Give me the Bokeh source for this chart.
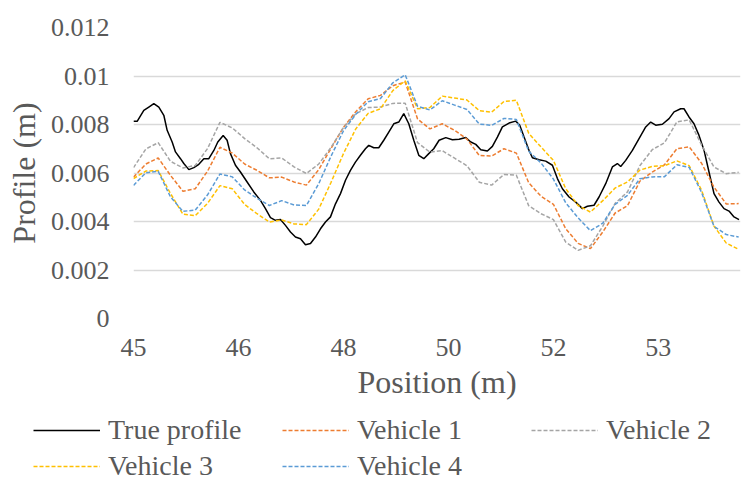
from bokeh.plotting import figure
from bokeh.layouts import column
from bokeh.models import FixedTicker, Legend, LegendItem, Range1d
from bokeh.embed import file_html
from bokeh.resources import INLINE

# Sampling positions of the vehicle profiles (m)
position = [44.75, 44.95, 45.15, 45.35, 45.55, 45.75, 45.95, 46.15, 46.35, 46.55,
            46.75, 46.95, 47.15, 47.35, 47.55, 47.75, 47.95, 48.15, 48.35, 48.55,
            48.75, 48.95, 49.15, 49.35, 49.55, 49.75, 49.95, 50.15, 50.35, 50.55,
            50.75, 50.95, 51.15, 51.35, 51.55, 51.75, 51.95, 52.15, 52.35, 52.55,
            52.75, 52.95, 53.15, 53.35, 53.55, 53.75, 53.95, 54.15, 54.35, 54.55]

# Sampling positions of the true profile (m)
true_position = [44.750, 44.809, 44.917, 44.998, 45.079, 45.160, 45.241, 45.295, 45.376, 45.430,
                 45.511, 45.565, 45.646, 45.727, 45.808, 45.889, 45.970, 46.051, 46.115, 46.202,
                 46.266, 46.320, 46.401, 46.482, 46.590, 46.698, 46.806, 46.887, 46.968, 47.049,
                 47.130, 47.211, 47.292, 47.373, 47.454, 47.535, 47.616, 47.697, 47.778, 47.859,
                 47.940, 48.021, 48.102, 48.183, 48.263, 48.344, 48.425, 48.506, 48.560, 48.641,
                 48.722, 48.803, 48.884, 48.965, 49.046, 49.127, 49.208, 49.289, 49.370, 49.451,
                 49.532, 49.612,
                 49.699, 49.807, 49.915, 50.023, 50.131, 50.212, 50.293, 50.374, 50.481, 50.562,
                 50.643, 50.724, 50.832, 50.940, 51.005, 51.075, 51.156, 51.210, 51.318, 51.426,
                 51.534, 51.615, 51.696, 51.804, 51.912, 52.020, 52.101, 52.208, 52.289, 52.397,
                 52.505, 52.586, 52.640, 52.721, 52.829, 52.937, 53.045, 53.126, 53.207, 53.315,
                 53.423, 53.504, 53.612, 53.665, 53.746, 53.827, 53.908, 53.990, 54.070, 54.151,
                 54.232, 54.313, 54.394, 54.475, 54.556]

true_profile = [0.00813, 0.00813, 0.00858, 0.00872, 0.00886, 0.00872, 0.00838, 0.00776, 0.00728, 0.00687,
                0.00659, 0.00639, 0.00614, 0.00622, 0.00636, 0.00659, 0.00659, 0.00693, 0.00728, 0.00755,
                0.00735, 0.00680, 0.00632, 0.00604, 0.00563, 0.00522, 0.00487, 0.00453, 0.00416, 0.00405,
                0.00408, 0.00384, 0.00357, 0.00336, 0.00329, 0.00304, 0.00309, 0.00336, 0.00370, 0.00398,
                0.00419, 0.00473, 0.00515, 0.00570, 0.00611, 0.00645, 0.00673, 0.00700, 0.00714, 0.00704,
                0.00704, 0.00735, 0.00769, 0.00803, 0.00810, 0.00845, 0.00803, 0.00735, 0.00673, 0.00659,
                0.00680, 0.00700,
                0.00735, 0.00746, 0.00737, 0.00739, 0.00746, 0.00728, 0.00718, 0.00696, 0.00691, 0.00710,
                0.00748, 0.00790, 0.00806, 0.00814, 0.00797, 0.00748, 0.00693, 0.00663, 0.00655, 0.00649,
                0.00632, 0.00577, 0.00535, 0.00501, 0.00480, 0.00453, 0.00463, 0.00467, 0.00501, 0.00556,
                0.00625, 0.00639, 0.00627, 0.00652, 0.00693, 0.00742, 0.00790, 0.00810, 0.00797, 0.00801,
                0.00824, 0.00852, 0.00865, 0.00865, 0.00831, 0.00803, 0.00755, 0.00693, 0.00604, 0.00515,
                0.00480, 0.00453, 0.00443, 0.00419, 0.00408]

vehicle_1 = [0.00583, 0.00637, 0.00662, 0.00590, 0.00525, 0.00535, 0.00608, 0.00706, 0.00682, 0.00637,
             0.00611, 0.00580, 0.00583, 0.00563, 0.00550, 0.00614, 0.00702, 0.00788, 0.00853, 0.00906,
             0.00920, 0.00960, 0.00975, 0.00823, 0.00782, 0.00803, 0.00776, 0.00740, 0.00672, 0.00670,
             0.00700, 0.00682, 0.00560, 0.00504, 0.00471, 0.00370, 0.00310, 0.00288, 0.00357, 0.00435,
             0.00465, 0.00566, 0.00604, 0.00634, 0.00700, 0.00708, 0.00640, 0.00542, 0.00472, 0.00474]

vehicle_2 = [0.00622, 0.00699, 0.00725, 0.00648, 0.00621, 0.00631, 0.00701, 0.00809, 0.00786, 0.00742,
             0.00704, 0.00659, 0.00662, 0.00625, 0.00598, 0.00637, 0.00706, 0.00787, 0.00844, 0.00870,
             0.00872, 0.00887, 0.00888, 0.00725, 0.00686, 0.00692, 0.00661, 0.00630, 0.00562, 0.00550,
             0.00594, 0.00591, 0.00465, 0.00432, 0.00408, 0.00315, 0.00281, 0.00300, 0.00381, 0.00475,
             0.00522, 0.00630, 0.00696, 0.00725, 0.00811, 0.00819, 0.00715, 0.00625, 0.00597, 0.00603]

vehicle_3 = [0.00577, 0.00608, 0.00610, 0.00515, 0.00430, 0.00424, 0.00475, 0.00548, 0.00535, 0.00470,
             0.00432, 0.00398, 0.00406, 0.00390, 0.00387, 0.00451, 0.00562, 0.00680, 0.00782, 0.00846,
             0.00865, 0.00940, 0.00980, 0.00865, 0.00870, 0.00917, 0.00909, 0.00901, 0.00857, 0.00851,
             0.00895, 0.00900, 0.00764, 0.00707, 0.00652, 0.00535, 0.00466, 0.00439, 0.00486, 0.00538,
             0.00563, 0.00612, 0.00627, 0.00630, 0.00650, 0.00630, 0.00529, 0.00381, 0.00311, 0.00285]

vehicle_4 = [0.00549, 0.00601, 0.00607, 0.00501, 0.00442, 0.00447, 0.00510, 0.00596, 0.00584, 0.00530,
             0.00496, 0.00466, 0.00486, 0.00468, 0.00466, 0.00556, 0.00670, 0.00774, 0.00842, 0.00894,
             0.00907, 0.00972, 0.01005, 0.00875, 0.00860, 0.00898, 0.00880, 0.00862, 0.00802, 0.00796,
             0.00825, 0.00821, 0.00690, 0.00641, 0.00575, 0.00477, 0.00415, 0.00362, 0.00393, 0.00471,
             0.00508, 0.00576, 0.00584, 0.00585, 0.00634, 0.00623, 0.00520, 0.00380, 0.00346, 0.00336]

x_tick_positions = [44.75, 46.45, 48.15, 49.85, 51.55, 53.25]
x_tick_labels = ["45", "46", "48", "50", "52", "53"]
y_ticks = [0, 0.002, 0.004, 0.006, 0.008, 0.01, 0.012]
y_tick_labels = ["0", "0.002", "0.004", "0.006", "0.008", "0.01", "0.012"]

series_names = ["True profile", "Vehicle 1", "Vehicle 2", "Vehicle 3", "Vehicle 4"]
series_colors = ["black", "#ED7D31", "#A5A5A5", "#FFC000", "#5B9BD5"]
series_dash = ["solid", "4 2", "4 2", "4 2", "4 2"]

FONT = "Liberation Serif"
TEXT = "#595959"

p = figure(width=742, height=404, output_backend="svg", toolbar_location=None,
           x_range=Range1d(44.75, 54.58), y_range=Range1d(0, 0.012),
           min_border_left=133, min_border_right=2, min_border_top=27,
           min_border_bottom=86)
p.outline_line_color = None
p.background_fill_color = "white"
p.border_fill_color = "white"

p.xgrid.grid_line_color = None
p.ygrid.grid_line_color = "#D9D9D9"
p.ygrid.grid_line_width = 1.5

p.yaxis.ticker = FixedTicker(ticks=y_ticks)
p.yaxis.major_label_overrides = dict(zip(y_ticks, y_tick_labels))
p.xaxis.ticker = FixedTicker(ticks=x_tick_positions)
p.xaxis.major_label_overrides = dict(zip(x_tick_positions, x_tick_labels))

for ax in (p.xaxis, p.yaxis):
    ax.axis_line_color = None
    ax.major_tick_line_color = None
    ax.minor_tick_line_color = None
    ax.major_label_text_font = FONT
    ax.major_label_text_font_size = "26px"
    ax.major_label_text_color = TEXT
    ax.axis_label_text_font = FONT
    ax.axis_label_text_font_size = "32px"
    ax.axis_label_text_font_style = "normal"
    ax.axis_label_text_color = TEXT

p.yaxis.axis_label = "Profile (m)"
p.yaxis.major_label_standoff = 18
p.yaxis.axis_label_standoff = 6
p.xaxis.axis_label = "Position (m)"
p.xaxis.major_label_standoff = 14
p.xaxis.axis_label_standoff = 5

p.line(true_position, true_profile, line_color=series_colors[0], line_width=1.5)
for ys, c in zip([vehicle_1, vehicle_2, vehicle_3, vehicle_4], series_colors[1:]):
    p.line(position, ys, line_color=c, line_width=1.5, line_dash="4 2")

# Legend strip below the chart
lf = figure(width=742, height=78, output_backend="svg", toolbar_location=None,
            x_range=Range1d(0, 1), y_range=Range1d(0, 1),
            x_axis_location=None, y_axis_location=None, min_border=0)
if "frame_align" in lf.properties():
    lf.frame_align = False
lf.outline_line_color = None
lf.xgrid.grid_line_color = None
lf.ygrid.grid_line_color = None

items = []
for name, c, d in zip(series_names, series_colors, series_dash):
    # swatch renderers sit outside the visible range; only their legend glyph shows
    r = lf.line([-2, -1], [-2, -1], line_color=c, line_width=1.5, line_dash=d)
    items.append(LegendItem(label=name, renderers=[r]))

legend = Legend(items=items, orientation="horizontal", ncols=3, location=(33, 0),
                glyph_width=67, glyph_height=20, label_height=20, label_width=170,
                label_standoff=8, spacing=4, padding=0, margin=0,
                label_text_font=FONT, label_text_font_size="28px",
                label_text_color=TEXT, border_line_color=None,
                background_fill_alpha=0)
lf.add_layout(legend)

open("out.html", "w").write(file_html(column(p, lf), INLINE))
